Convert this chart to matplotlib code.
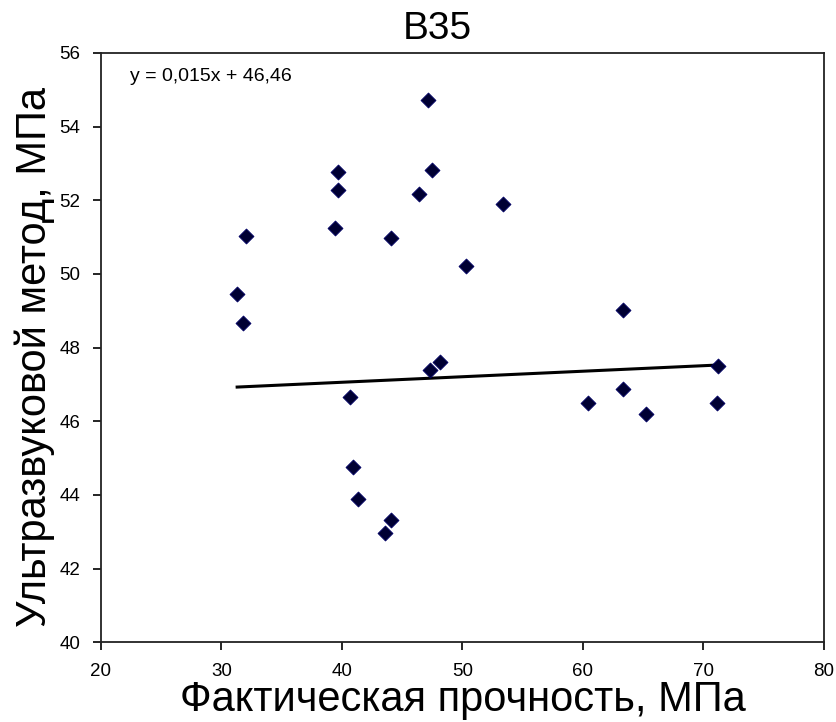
import matplotlib
matplotlib.use('Agg')
import matplotlib.pyplot as plt
import numpy as np

plt.rcParams['font.family'] = ['Liberation Sans', 'DejaVu Sans']

# Фактическая прочность, МПа
fact = [32.0, 31.3, 31.8, 39.7, 39.7, 39.4, 47.1, 47.5, 46.4, 44.1,
        50.3, 53.4, 40.7, 40.9, 41.3, 43.6, 44.1, 47.3, 48.1, 63.3,
        63.3, 60.4, 65.2, 71.2, 71.1]
# Ультразвуковой метод, МПа
ultra = [51.03, 49.45, 48.67, 52.77, 52.27, 51.25, 54.72, 52.83, 52.18, 50.98,
         50.21, 51.91, 46.66, 44.77, 43.89, 42.97, 43.32, 47.39, 47.61, 49.02,
         46.89, 46.51, 46.19, 47.50, 46.50]

slope = 0.015
intercept = 46.46

fig = plt.figure(figsize=(8.36, 7.22), dpi=100)
ax = fig.add_axes([0.1208, 0.1104, 0.8648, 0.8162])

ax.scatter(fact, ultra, marker='D', s=58, color='#000033',
           edgecolors='#000066', linewidths=0.6, zorder=3)

# линия тренда по уравнению
xl = np.array([min(fact), max(fact)])
ax.plot(xl, slope * xl + intercept, color='black', lw=2.2, zorder=2)

ax.set_xlim(20, 80)
ax.set_ylim(40, 56)
ax.set_xticks(range(20, 81, 10))
ax.set_yticks(range(40, 57, 2))
ax.tick_params(direction='out', length=6, width=1.2, labelsize=13.5, pad=9)
for sp in ax.spines.values():
    sp.set_linewidth(1.3)
    sp.set_color('#222222')

ax.set_xlabel('Фактическая прочность, МПа', fontsize=30, labelpad=0)
ax.set_ylabel('Ультразвуковой метод, МПа', fontsize=30)
ax.yaxis.set_label_coords(-0.064, 0.484)
fig.text(437 / 836, 1 - 29 / 722, 'B35', fontsize=28, ha='center', va='center')

ax.text(0.04, 0.96, 'y = 0,015x + 46,46', transform=ax.transAxes,
        fontsize=14, ha='left', va='center')

fig.savefig('out.png', dpi=100)
